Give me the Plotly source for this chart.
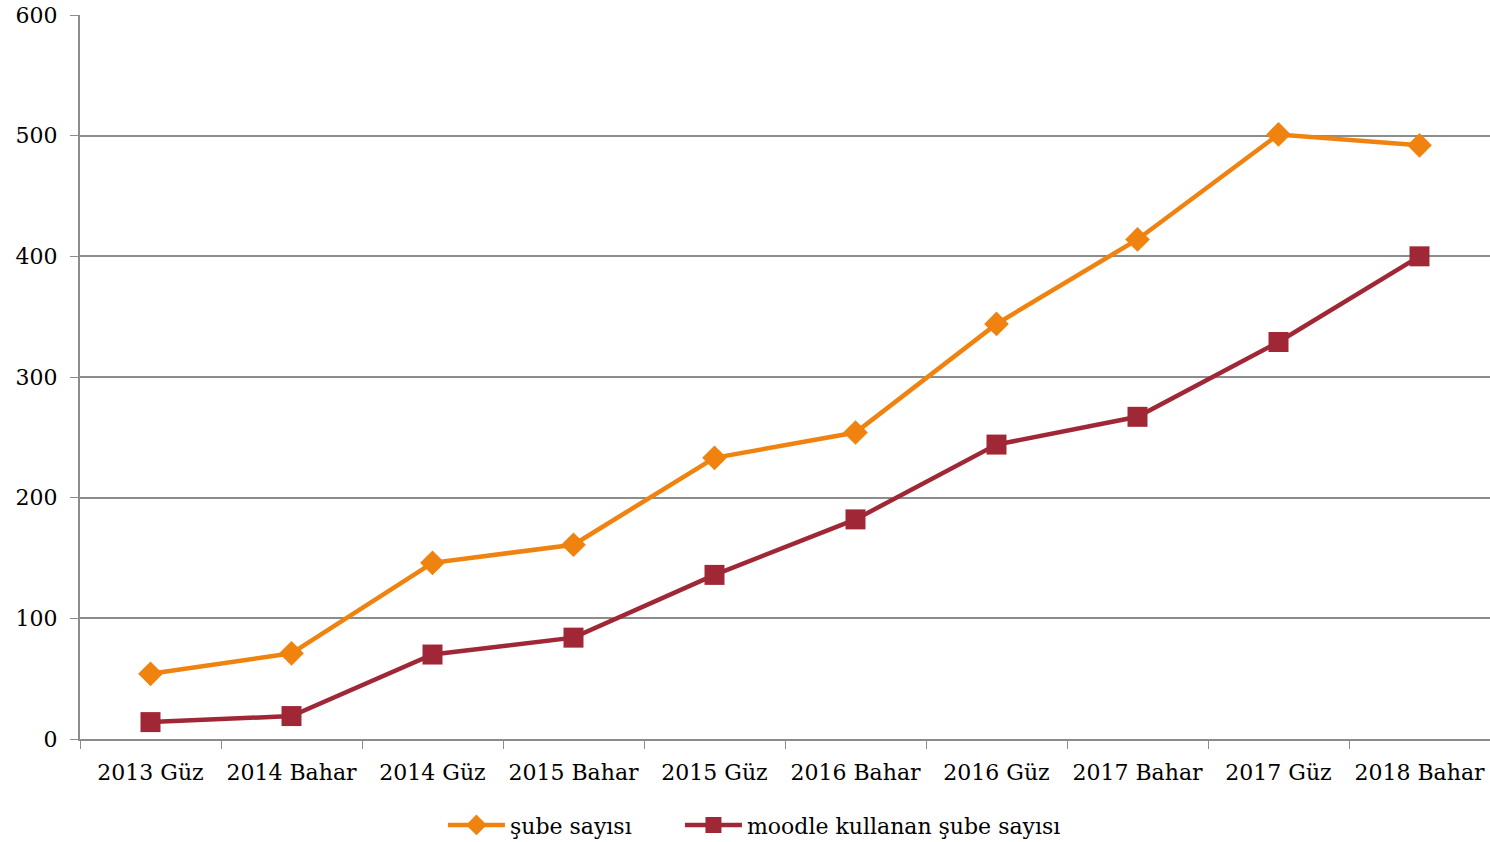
import plotly.graph_objects as go

categories = ["2013 Güz", "2014 Bahar", "2014 Güz", "2015 Bahar", "2015 Güz",
              "2016 Bahar", "2016 Güz", "2017 Bahar", "2017 Güz", "2018 Bahar"]
sube_sayisi = [54, 71, 146, 161, 233, 254, 344, 414, 501, 492]
moodle_sube = [14, 19, 70, 84, 136, 182, 244, 267, 329, 400]
y_ticks = [0, 100, 200, 300, 400, 500, 600]

FONT = "DejaVu Serif"
FS = 22

fig = go.Figure()
fig.add_trace(go.Scatter(
    x=categories, y=sube_sayisi, name="şube sayısı", mode="lines+markers",
    line=dict(color="#F0820F", width=4.5),
    marker=dict(symbol="diamond", size=19, color="#F0820F"),
    legend="legend",
))
fig.add_trace(go.Scatter(
    x=categories, y=moodle_sube, name="moodle kullanan şube sayısı", mode="lines+markers",
    line=dict(color="#A02836", width=4.5),
    marker=dict(symbol="square", size=20, color="#A02836"),
    legend="legend2",
))

legend_style = dict(orientation="h", y=-0.09, yanchor="top", xanchor="left",
                    font=dict(family=FONT, size=FS), itemwidth=57,
                    bgcolor="rgba(0,0,0,0)")

fig.update_layout(
    width=1490, height=842,
    margin=dict(l=80, r=0, t=15, b=103, autoexpand=False),
    paper_bgcolor="white", plot_bgcolor="white",
    font=dict(family=FONT, size=FS, color="black"),
    showlegend=True,
    legend=dict(x=0.2574, **legend_style),
    legend2=dict(x=0.4255, **legend_style),
)
fig.update_xaxes(
    type="category", range=[-0.5, 9.5], tickson="boundaries", ticks="outside", ticklen=8,
    tickcolor="#8C8C8C", showline=True, linecolor="#8C8C8C", linewidth=2,
    showgrid=False, tickfont=dict(family=FONT, size=FS), automargin=False,
    ticklabelstandoff=13,
)
fig.update_yaxes(
    range=[0, 600], tickvals=y_ticks, ticks="outside", ticklen=8,
    tickcolor="#8C8C8C", showline=True, linecolor="#8C8C8C", linewidth=2,
    showgrid=True, gridcolor="#8C8C8C", gridwidth=1.5, zeroline=False,
    tickfont=dict(family=FONT, size=FS), ticklabelstandoff=8, automargin=False,
)

fig.write_html(
    "out.html",
    config={"displayModeBar": False},
    post_script="document.body.style.margin='0';document.body.style.overflow='hidden';",
)
